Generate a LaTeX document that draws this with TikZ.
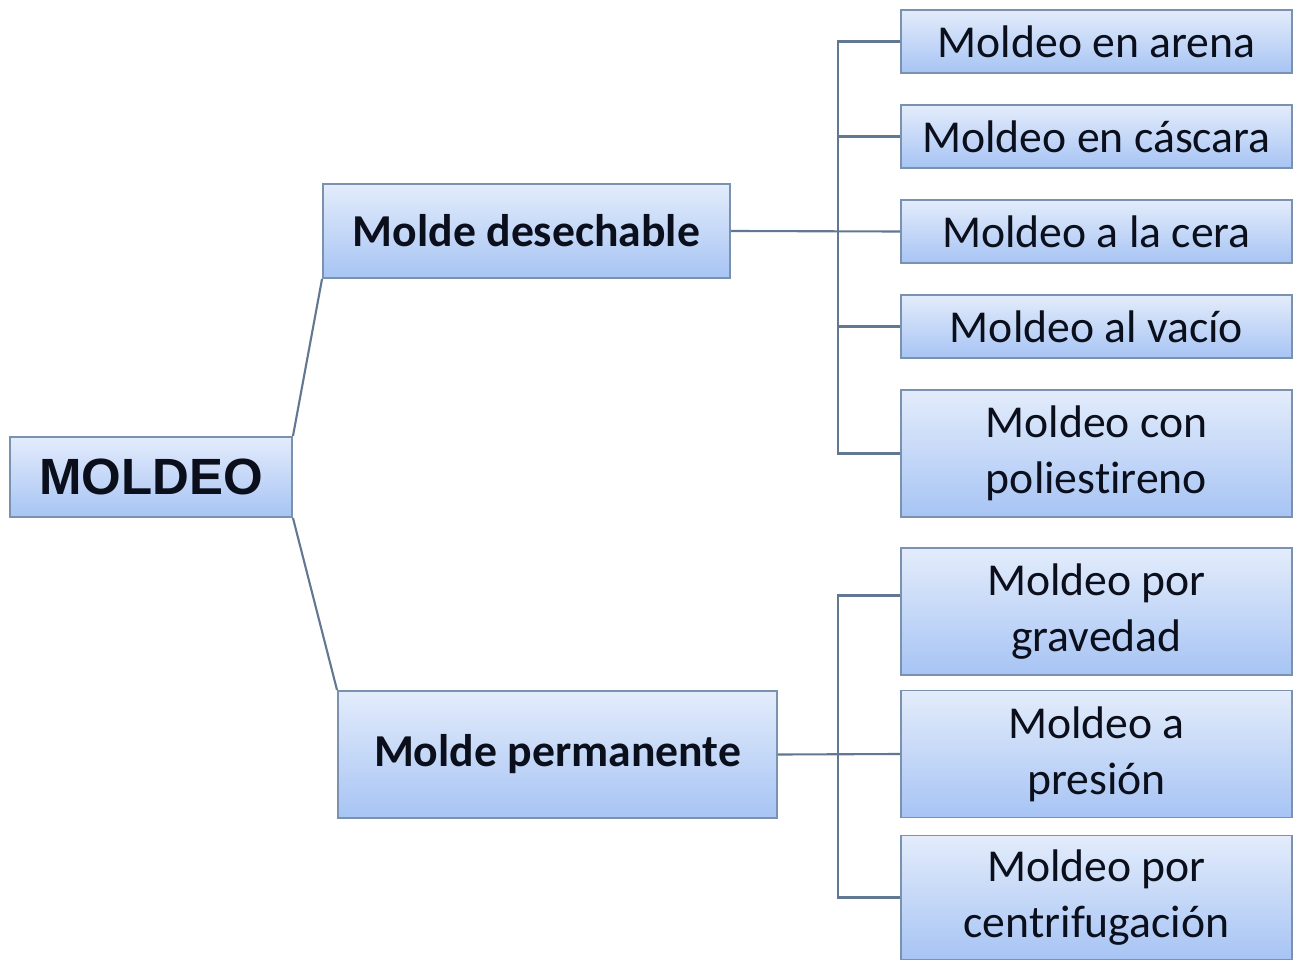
\documentclass[tikz,border=0pt]{standalone}
\usepackage{fontspec}
\setmainfont{Carlito}[Ligatures=NoCommon]
\newfontfamily\headfont{Liberation Sans}
\usetikzlibrary{positioning, calc}
\definecolor{cbtop}{HTML}{E3ECFB}
\definecolor{cbbot}{HTML}{A7C4F4}
\definecolor{cedge}{HTML}{7B91B0}
\definecolor{cline}{HTML}{627791}
\definecolor{ctext}{HTML}{0B0F1C}
\tikzset{
  every picture/.style={line width=1.1pt},
  box/.style={draw=cedge, top color=cbtop, bottom color=cbbot, align=center, inner sep=0pt,
    text=ctext, font=\fontsize{26}{32}\selectfont, minimum width=7.82cm, minimum height=1.26cm},
  tall/.style={minimum height=2.54cm},
  branch/.style={box, font=\fontsize{26}{32}\selectfont\bfseries},
  title/.style={box, font=\headfont\fontsize{29}{34}\selectfont\bfseries},
  link/.style={draw=cline, line width=1.2pt},
}

\begin{document}
\begin{tikzpicture}
  \useasboundingbox (0,0) rectangle (25.92,-19.2);
  % root and the two kinds of mould
  \node[title, minimum width=5.64cm, minimum height=1.6cm] (moldeo) at (3.02,-9.54) {MOLDEO};
  \node[branch, minimum width=8.14cm, minimum height=1.88cm] (desech) at (10.53,-4.62) {Molde desechable};
  \node[branch, minimum width=8.78cm, minimum height=2.54cm] (perm) at (11.15,-15.09) {Molde permanente};
  % leaves
  \node[box] (arena) at (21.93,-0.83) {Moldeo en arena};
  \node[box] (cascara) at (21.93,-2.73) {Moldeo en cáscara};
  \node[box] (cera) at (21.93,-4.63) {Moldeo a la cera};
  \node[box] (vacio) at (21.93,-6.53) {Moldeo al vacío};
  \node[box, tall] (polies) at (21.93,-9.07) {Moldeo con\\poliestireno};
  \node[box, tall] (grav) at (21.93,-12.23) {Moldeo por\\gravedad};
  \node[box, tall] (pres) at (21.93,-15.08) {Moldeo a\\presión};
  \node[box, tall, minimum height=2.48cm] (centr) at (21.93,-17.95) {Moldeo por\\centrifugación};
  \coordinate (bus) at (16.76,0);
  \coordinate (gtap) at ($(grav.west)+(0,0.32)$);
  % connectors
  \draw[link] (moldeo.north east) -- (desech.south west);
  \draw[link] (moldeo.south east) -- (perm.north west);
  \draw[link] (desech.east) -- (cera.west);
  \draw[link] (arena.west) -- (arena.west -| bus) -- (polies.west -| bus) -- (polies.west);
  \draw[link] (cascara.west) -- (cascara.west -| bus);
  \draw[link] (vacio.west) -- (vacio.west -| bus);
  \draw[link] (perm.east) -- (pres.west);
  \draw[link] (gtap) -- (gtap -| bus) -- (centr.west -| bus) -- (centr.west);
\end{tikzpicture}
\end{document}
